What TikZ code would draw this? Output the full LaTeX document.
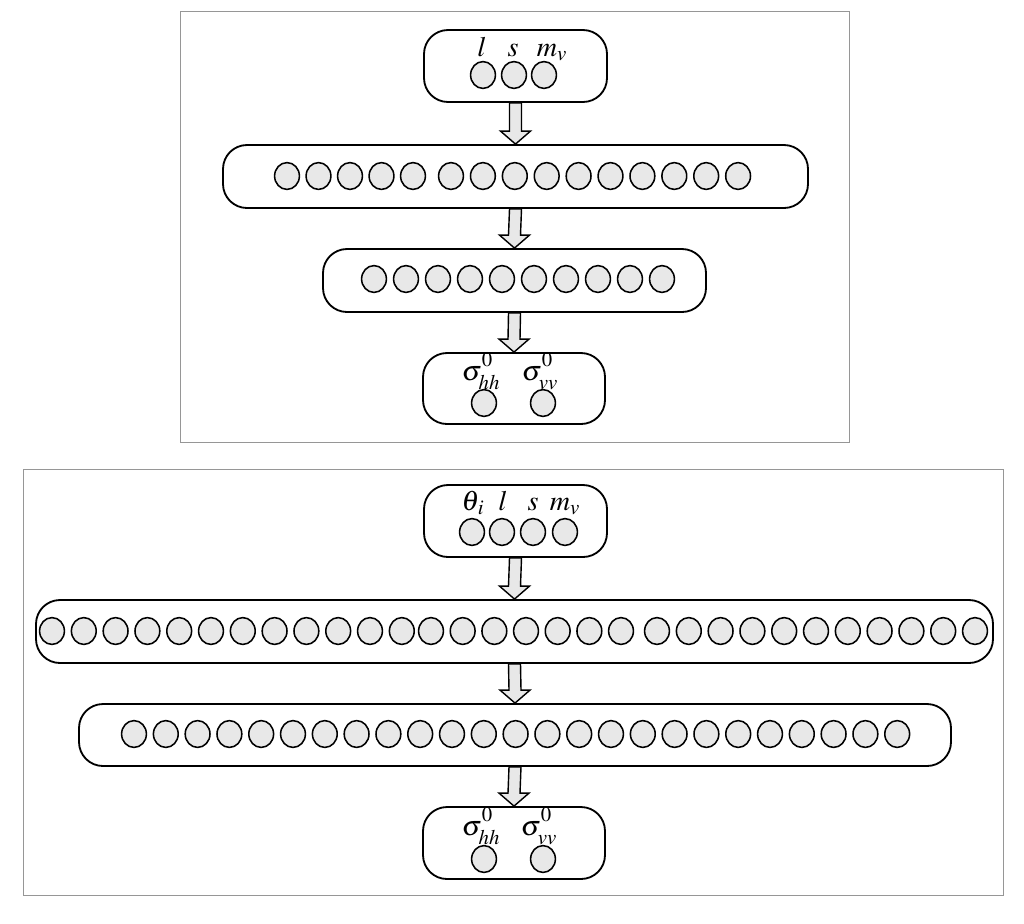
\documentclass[tikz,border=0pt]{standalone}
\usepackage{mathptmx}
\usetikzlibrary{calc,fit,shapes.geometric}
\definecolor{unitgray}{RGB}{232,232,232}
\definecolor{framegray}{RGB}{150,150,150}
\tikzset{
  panel/.style={draw=framegray, line width=0.7pt},
  layer/.style={draw, line width=1.3pt, rounded corners=0.6cm, inner sep=0pt, fill=white},
  unit/.style={ellipse, draw, fill=unitgray, line width=1.1pt, minimum width=0.62cm, minimum height=0.67cm, inner sep=0pt},
  lab/.style={anchor=base, inner sep=0pt, font=\fontsize{20}{22}\selectfont},
  flow/.style={draw, fill=unitgray, line width=1pt, line join=miter}
}
% block arrow from the bottom of one box to the top of the next
\newcommand{\flowarrow}[2]{%
  \draw [flow] ($(#1.south)+(-6,0)$) -- ($(#2.north)+(-6,-13)$) -- ($(#2.north)+(-15,-13)$)
    -- (#2.north) -- ($(#2.north)+(15,-13)$) -- ($(#2.north)+(6,-13)$)
    -- ($(#1.south)+(6,0)$) -- cycle;}
% backscatter symbol with the 0 and the polarisation pulled apart
\newcommand{\backsc}[1]{\sigma^{\raisebox{2pt}{$\scriptstyle 0$}}_{\raisebox{-2pt}{$\scriptstyle #1$}}}
\begin{document}
\begin{tikzpicture}[x=0.025cm, y=-0.025cm]
            \useasboundingbox (0,0) rectangle (1024,923);
            % The two panel frames
            \draw [panel] (180,11) rectangle (849,442);
            \draw [panel] (23,469) rectangle (1003,895);

            % Upper network: boxes
            \node [layer, fit={(424,30) (607,102)}] (in1) {};
            \node [layer, fit={(223,145) (808,208)}] (hA1) {};
            \node [layer, fit={(323,249) (706,312)}] (hA2) {};
            \node [layer, fit={(423,353) (605,424)}] (out1) {};
            % Upper network: inputs and their labels
            \foreach \x [count=\i] in {483,514,544} {
              \node [unit] (in1-\i) at (\x,75) {};
            }
            \node [lab] (lab1-l) at (482,56) {$l$};
            \node [lab] (lab1-s) at (513,56) {$s$};
            \node [lab] (lab1-m) at (552,56) {$m_v$};
            % Upper network: hidden units
            \foreach \k in {0,...,4} {
              \node [unit] (hA1-a\k) at (287+31.5*\k,176) {};
            }
            \foreach \k in {0,...,9} {
              \node [unit] (hA1-b\k) at (451+31.9*\k,176) {};
              \node [unit] (hA2-\k) at (374+32*\k,279) {};
            }
            % Upper network: outputs
            \node [lab] (lab1-hh) at (481,380) {$\backsc{hh}$};
            \node [lab] (lab1-vv) at (540,380) {$\backsc{vv}$};
            \node [unit] (out1-1) at (484,403) {};
            \node [unit] (out1-2) at (543,403) {};

            % Lower network: boxes
            \node [layer, fit={(424,485) (607,557)}] (in2) {};
            \node [layer, fit={(36,600) (993,663)}] (hB1) {};
            \node [layer, fit={(79,704) (951,766)}] (hB2) {};
            \node [layer, fit={(423,807) (605,879)}] (out2) {};
            % Lower network: inputs and their labels
            \foreach \x [count=\i] in {472,502,533,565} {
              \node [unit] (in2-\i) at (\x,532) {};
            }
            \node [lab] (lab2-t) at (473,510) {$\theta_{\kern1pt i}$};
            \node [lab] (lab2-l) at (503,510) {$l$};
            \node [lab] (lab2-s) at (533,510) {$s$};
            \node [lab] (lab2-m) at (565,510) {$m_v$};
            % Lower network: hidden units
            \foreach \k in {0,...,11} {
              \node [unit] (hB1-a\k) at (52+31.8*\k,631) {};
            }
            \foreach \k in {0,...,6} {
              \node [unit] (hB1-b\k) at (431+31.67*\k,631) {};
            }
            \foreach \k in {0,...,10} {
              \node [unit] (hB1-c\k) at (657+31.8*\k,631) {};
            }
            \foreach \k in {0,...,24} {
              \node [unit] (hB2-\k) at (134+31.8*\k,734) {};
            }
            % Lower network: outputs
            \node [lab] (lab2-hh) at (481,835) {$\backsc{hh}$};
            \node [lab] (lab2-vv) at (539,835) {$\backsc{vv}$};
            \node [unit] (out2-1) at (484,859) {};
            \node [unit] (out2-2) at (543,859) {};

            % Arrows between the layers
            \flowarrow{in1}{hA1}
            \flowarrow{hA1}{hA2}
            \flowarrow{hA2}{out1}
            \flowarrow{in2}{hB1}
            \flowarrow{hB1}{hB2}
            \flowarrow{hB2}{out2}
        \end{tikzpicture}
\end{document}
